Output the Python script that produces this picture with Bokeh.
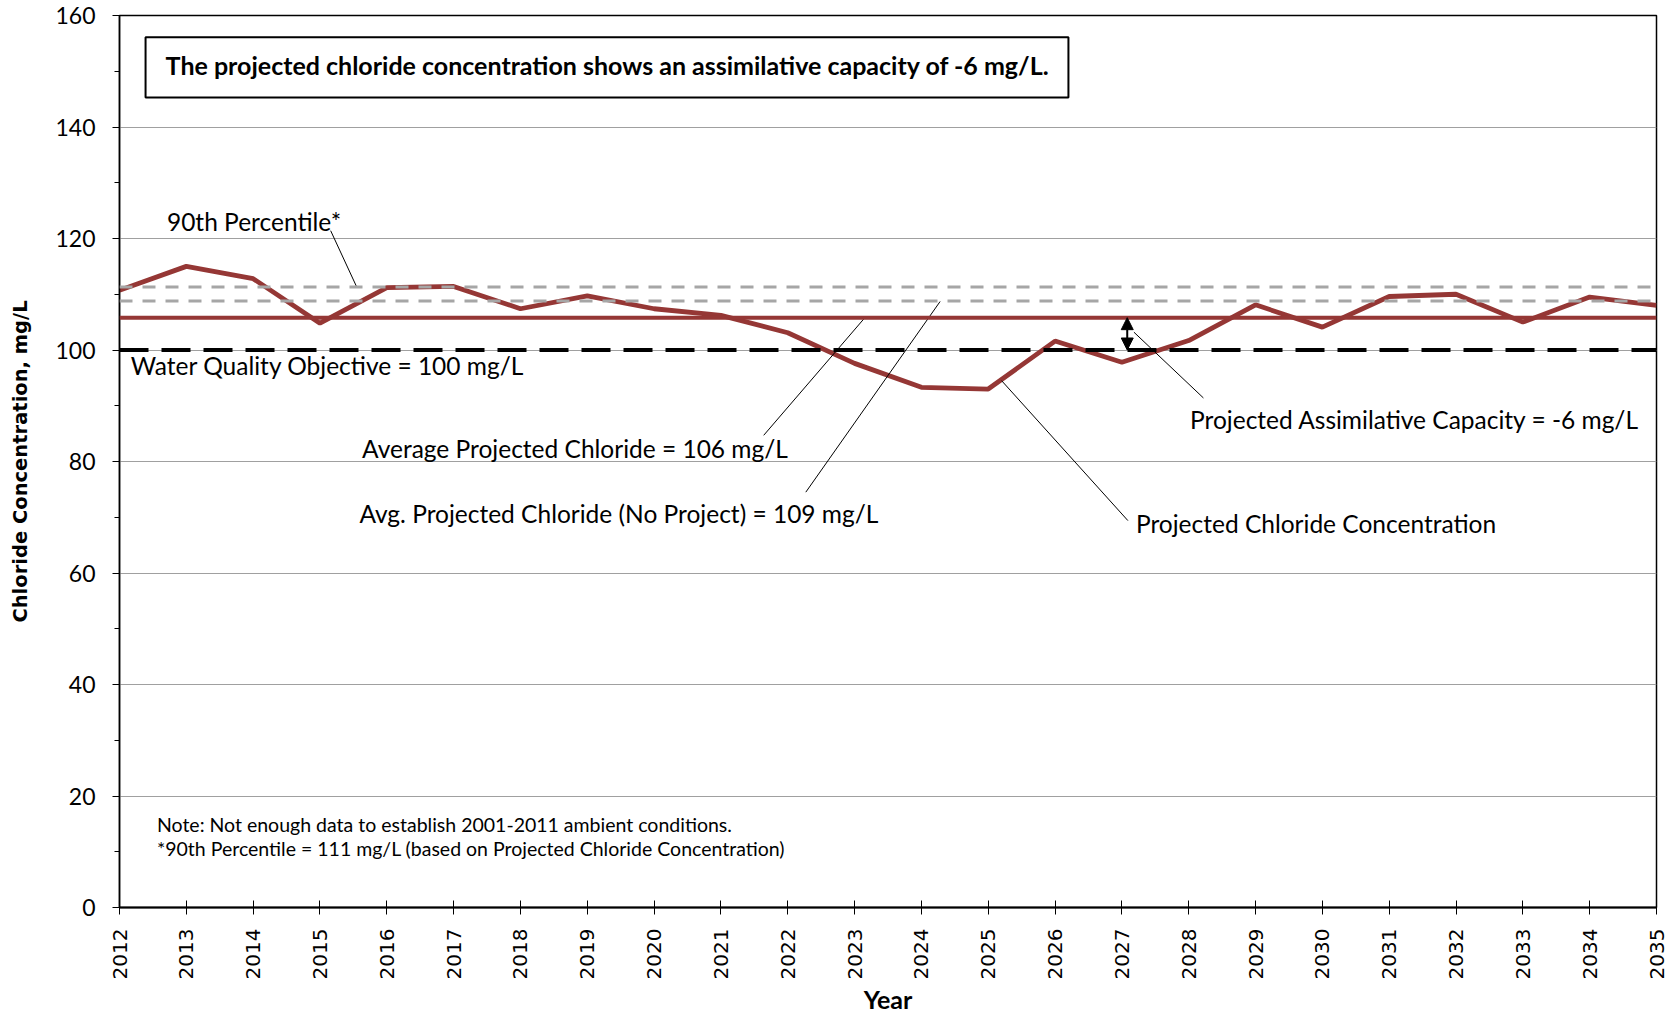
import math
from bokeh.plotting import figure
from bokeh.models import (Range1d, FixedTicker, Span, Arrow, NormalHead,
                          ColumnDataSource)
from bokeh.core.properties import value
from bokeh.embed import file_html
from bokeh.resources import INLINE

# ---------------- data ----------------
years = list(range(2012, 2036))
chloride = [110.7, 115.0, 112.8, 104.8, 111.2, 111.4, 107.4, 109.7, 107.4, 106.2,
            103.1, 97.6, 93.3, 93.0, 101.6, 97.8, 101.7, 108.1, 104.1, 109.6,
            110.0, 105.0, 109.5, 108.0]
avg_projected = 105.8        # labelled 106 mg/L
avg_no_project = 108.8       # labelled 109 mg/L
percentile_90 = 111.3        # labelled 111 mg/L
objective = 100
y_ticks = [0, 20, 40, 60, 80, 100, 120, 140, 160]
y_minor = [10, 30, 50, 70, 90, 110, 130, 150]

RED = "#953735"
GRAY = "#a6a6a6"
CAL = "Lato"

p = figure(width=1680, height=1017, output_backend="svg", toolbar_location=None,
           x_range=Range1d(2012, 2035), y_range=Range1d(0, 160),
           min_border_left=119, min_border_right=24, min_border_top=15,
           min_border_bottom=110)
p.background_fill_color = "white"
p.border_fill_color = "white"
p.outline_line_color = "black"
p.outline_line_width = 1.5

# grid
p.xgrid.visible = False
p.ygrid.grid_line_color = "#a0a0a0"
p.ygrid.grid_line_width = 1.2

# x axis
xa = p.xaxis[0]
xa.ticker = FixedTicker(ticks=years)
xa.major_label_orientation = math.pi / 2
xa.major_label_text_font = "DejaVu Sans"
xa.major_label_text_font_size = "20px"
xa.major_label_text_color = "black"
xa.major_tick_in = 7
xa.major_tick_out = 7
xa.major_tick_line_color = "black"
xa.minor_tick_line_color = None
xa.major_label_standoff = 14
xa.axis_line_color = "black"
xa.axis_line_width = 2
xa.axis_label = "Year"
xa.axis_label_text_font = CAL
xa.axis_label_text_font_style = "bold"
xa.axis_label_text_font_size = "25px"
xa.axis_label_text_color = "black"
xa.axis_label_standoff = 2

# y axis
ya = p.yaxis[0]
ya.ticker = FixedTicker(ticks=y_ticks, minor_ticks=y_minor)
ya.major_label_text_font = CAL
ya.major_label_text_font_size = "23px"
ya.major_label_text_color = "black"
ya.major_tick_in = 0
ya.major_tick_out = 7
ya.minor_tick_in = 0
ya.minor_tick_out = 5
ya.major_tick_line_color = "black"
ya.minor_tick_line_color = "black"
ya.major_label_standoff = 17
ya.axis_line_color = "black"
ya.axis_line_width = 1.5
ya.axis_label = "Chloride Concentration, mg/L"
ya.axis_label_text_font = "DejaVu Sans"
ya.axis_label_text_font_style = "bold"
ya.axis_label_text_font_size = "19.5px"
ya.axis_label_text_color = "black"
ya.axis_label_standoff = 20

# projected chloride series
src = ColumnDataSource(dict(year=years, cl=chloride))
p.line("year", "cl", source=src, line_color=RED, line_width=4.8)

# reference lines
p.add_layout(Span(location=avg_projected, dimension="width", line_color=RED, line_width=4))
p.add_layout(Span(location=percentile_90, dimension="width", line_color=GRAY,
                  line_width=3, line_dash="13 10"))
p.add_layout(Span(location=avg_no_project, dimension="width", line_color=GRAY,
                  line_width=3, line_dash="13 10"))
p.add_layout(Span(location=objective, dimension="width", line_color="black",
                  line_width=4, line_dash="29 13"))

# assimilative-capacity double arrow
p.add_layout(Arrow(start=NormalHead(size=12, fill_color="black", line_color="black"),
                   end=NormalHead(size=12, fill_color="black", line_color="black"),
                   x_start=2027.08, y_start=avg_projected, x_end=2027.08, y_end=objective,
                   line_color="black", line_width=2))

# leader lines
p.segment(x0=[2015.16, 2021.64, 2022.27, 2027.09, 2028.22],
          y0=[121.4, 84.7, 74.5, 69.4, 91.4],
          x1=[2015.55, 2023.14, 2024.28, 2025.20, 2027.18],
          y1=[111.3, 105.6, 108.7, 94.5, 103.2],
          line_color="black", line_width=1)

# annotation labels
labels = ["90th Percentile*",
          "Water Quality Objective = 100 mg/L",
          "Average Projected Chloride = 106 mg/L",
          "Avg. Projected Chloride (No Project) = 109 mg/L",
          "Projected Chloride Concentration",
          "Projected Assimilative Capacity =  -6 mg/L"]
p.text(x=[2012.71, 2012.17, 2015.63, 2015.59, 2027.21, 2028.02],
       y=[123.0, 97.2, 82.3, 70.7, 68.9, 87.6],
       text=labels, text_font=value(CAL), text_font_size="24.5px",
       text_color="black", text_align="left", text_baseline="middle")

notes = ["Note: Not enough data to establish 2001-2011 ambient conditions.",
         "*90th Percentile = 111 mg/L (based on Projected Chloride Concentration)"]
p.text(x=[2012.56, 2012.56], y=[14.95, 10.5], text=notes, text_font=value(CAL),
       text_font_size="19.5px", text_color="black", text_align="left",
       text_baseline="middle")

# message box
p.quad(left=[2012.39], right=[2026.20], bottom=[145.3], top=[156.1],
       fill_color="white", line_color="black", line_width=2)
p.text(x=[2012.69], y=[151.1],
       text=["The projected chloride concentration shows an assimilative capacity of -6 mg/L."],
       text_font=value(CAL), text_font_style="bold", text_font_size="25px",
       text_color="black", text_align="left", text_baseline="middle")

open("out.html", "w").write(file_html(p, INLINE))
